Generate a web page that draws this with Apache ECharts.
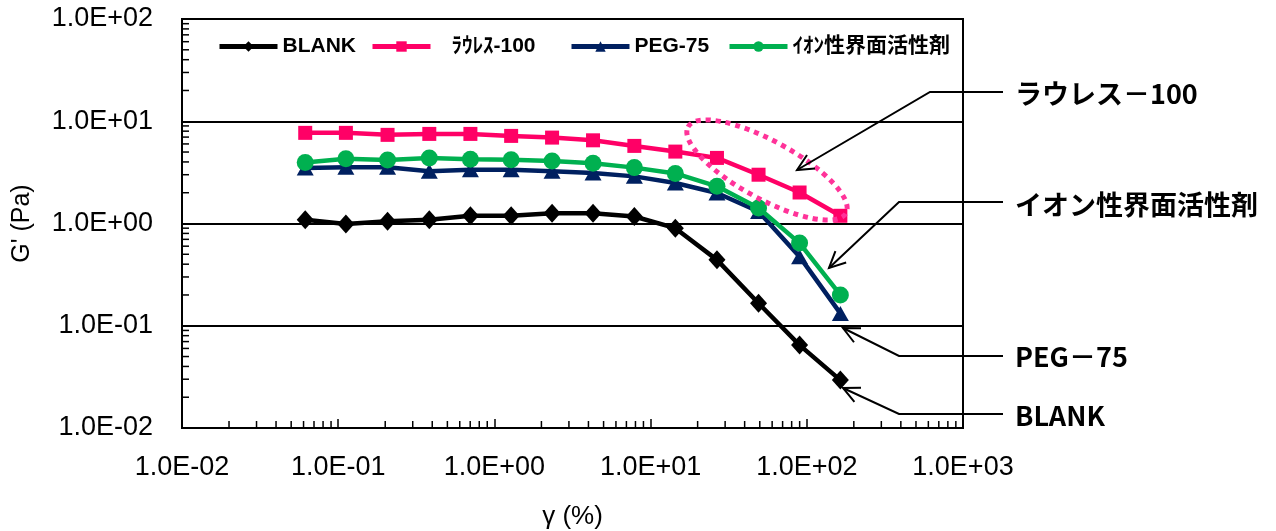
<!DOCTYPE html>
<html>
<head>
<meta charset="utf-8">
<script src="https://cdn.jsdelivr.net/npm/echarts@6/dist/echarts.min.js"></script>
<style>
html,body{margin:0;padding:0;background:#fff;}
#c{width:1276px;height:531px;}
</style>
</head>
<body>
<div id="c"></div>
<script>
// ---- data ----
const strain  = [0.0615, 0.112, 0.207, 0.383, 0.702, 1.28, 2.34, 4.28, 7.87, 14.4, 26.6, 49.1, 89.9, 164];
const blank   = [1.09, 0.99, 1.05, 1.09, 1.19, 1.19, 1.26, 1.26, 1.17, 0.90, 0.441, 0.166, 0.0647, 0.0294];
const laureth = [7.70, 7.70, 7.36, 7.52, 7.52, 7.19, 6.92, 6.51, 5.74, 5.05, 4.38, 3.00, 2.01, 1.19];
const peg     = [3.49, 3.54, 3.54, 3.24, 3.36, 3.36, 3.24, 3.12, 2.89, 2.49, 1.99, 1.31, 0.474, 0.132];
const ionic   = [3.96, 4.30, 4.18, 4.38, 4.25, 4.21, 4.09, 3.88, 3.52, 3.09, 2.31, 1.42, 0.643, 0.200];
const seriesNames = ['BLANK', 'ﾗｳﾚｽ-100', 'PEG-75', 'ｲｵﾝ性界面活性剤'];
const seriesColors = ['#000000', '#FF0066', '#002060', '#00B050'];
const annoNames = ['ラウレス－100', 'イオン性界面活性剤', 'PEG－75', 'BLANK'];
const xRange = [0.01, 1000];
const yRange = [0.01, 100];

function minorTicks(lo, hi) {
  const out = [];
  for (let d = Math.round(Math.log10(lo)); d < Math.round(Math.log10(hi)); d++) {
    for (let k = 2; k <= 9; k++) out.push(k * Math.pow(10, d));
  }
  return out;
}
const xMinor = minorTicks(xRange[0], xRange[1]);
const yMinor = minorTicks(yRange[0], yRange[1]);

function sci(v) {
  const e = Math.round(Math.log10(v));
  const s = e < 0 ? '-' : '+';
  const a = Math.abs(e);
  return '1.0E' + s + (a < 10 ? '0' + a : a);
}
function pairs(arr) { return strain.map((x, i) => [x, arr[i]]); }

const chart = echarts.init(document.getElementById('c'), null, {renderer: 'canvas'});

function arrow(x0, y0, x1, y1) {
  const t = Math.atan2(y1 - y0, x1 - x0), L = 18, f = 0.45;
  return [
    [x1 - L * Math.cos(t - f), y1 - L * Math.sin(t - f)],
    [x1, y1],
    [x1 - L * Math.cos(t + f), y1 - L * Math.sin(t + f)]
  ];
}
const leaders = [
  {pts: [[1003, 92], [930, 92], [797, 170]], text: annoNames[0], ty: 94},
  {pts: [[1003, 202], [899, 202], [829, 268]], text: annoNames[1], ty: 205},
  {pts: [[1003, 356], [899, 356], [843, 328]], text: annoNames[2], ty: 357},
  {pts: [[1003, 414], [899, 414], [843, 388]], text: annoNames[3], ty: 416}
];
const graphics = [];
leaders.forEach(l => {
  graphics.push({type: 'polyline', silent: true, z: 100, shape: {points: l.pts},
    style: {stroke: '#000', lineWidth: 2, fill: null}});
  const a = l.pts[1], b = l.pts[2];
  graphics.push({type: 'polyline', silent: true, z: 100, shape: {points: arrow(a[0], a[1], b[0], b[1])},
    style: {stroke: '#000', lineWidth: 2, fill: null}});
  graphics.push({type: 'text', silent: true, z: 100, x: 1015, y: l.ty,
    style: {text: l.text, fill: '#000', fontSize: 27, fontWeight: 'bold',
      fontFamily: '"Noto Sans CJK JP", sans-serif', verticalAlign: 'middle', align: 'left'}});
});
graphics.push({type: 'ellipse', silent: true, z: 90, x: 767, y: 170, rotation: -0.5,
  shape: {cx: 0, cy: 0, rx: 90, ry: 29},
  style: {stroke: '#FF3399', lineWidth: 5, lineDash: [5, 5], fill: null}});

const legendLefts = [212, 365, 564, 722];
const legendTextPad = [0, 16, 0, 0];
const legends = seriesNames.map((n, i) => ({
  data: [n], left: legendLefts[i], top: 31, itemWidth: 58, itemHeight: 13, itemGap: 0,
  lineStyle: {width: 5},
  textStyle: {fontFamily: '"Liberation Sans", "Noto Sans CJK JP", sans-serif', fontWeight: 'bold', fontSize: 21, color: '#000',
    padding: [0, 0, 0, legendTextPad[i]]}
}));

const symbols = ['diamond', 'rect', 'triangle', 'circle'];
const sizes = [[17, 19], 14, [17, 15], 17];
const datasets = [blank, laureth, peg, ionic];

const lineSeries = seriesNames.map((n, i) => ({
  type: 'line', name: n, data: pairs(datasets[i]), symbol: symbols[i], symbolSize: sizes[i], z: 3 + i,
  itemStyle: {color: seriesColors[i]}, lineStyle: {width: 4.5, color: seriesColors[i]}
}));

chart.setOption({
  animation: false,
  backgroundColor: '#fff',
  grid: {left: 182, right: 313, top: 19, bottom: 103, show: true, borderColor: '#000', borderWidth: 2,
    containLabel: false, outerBoundsMode: 'none'},
  legend: legends,
  xAxis: {
    type: 'log', logBase: 10, min: xRange[0], max: xRange[1],
    name: 'γ (%)', nameLocation: 'middle', nameGap: 76,
    nameTextStyle: {fontFamily: '"Liberation Sans", sans-serif', fontSize: 26, color: '#000'},
    axisLine: {lineStyle: {color: '#000', width: 2}},
    axisTick: {inside: true, length: 9, lineStyle: {color: '#000', width: 1.5}},
    axisLabel: {formatter: sci, margin: 26, color: '#000', fontSize: 27, fontFamily: '"Liberation Sans", sans-serif'},
    splitLine: {show: false}
  },
  yAxis: {
    type: 'log', logBase: 10, min: yRange[0], max: yRange[1],
    name: "G' (Pa)", nameLocation: 'middle', nameGap: 147,
    nameTextStyle: {fontFamily: '"Liberation Sans", sans-serif', fontSize: 25, color: '#000'},
    axisLine: {lineStyle: {color: '#000', width: 2}},
    axisTick: {inside: true, length: 9, lineStyle: {color: '#000', width: 1.5}},
    axisLabel: {formatter: sci, margin: 29, color: '#000', fontSize: 27, fontFamily: '"Liberation Sans", sans-serif'},
    splitLine: {show: true, lineStyle: {color: '#000', width: 2}}
  },
  series: lineSeries.concat([
    {type: 'custom', name: 'xminor', silent: true, clip: false, z: 2,
      data: xMinor.map(v => [v, yRange[0]]),
      renderItem: function (params, api) {
        const p = api.coord([api.value(0), yRange[0]]);
        return {type: 'line', shape: {x1: p[0], y1: p[1], x2: p[0], y2: p[1] - 7}, style: {stroke: '#000', lineWidth: 1.5}};
      }},
    {type: 'custom', name: 'yminor', silent: true, clip: false, z: 2,
      data: yMinor.map(v => [xRange[0], v]),
      renderItem: function (params, api) {
        const p = api.coord([xRange[0], api.value(1)]);
        return {type: 'line', shape: {x1: p[0], y1: p[1], x2: p[0] + 7, y2: p[1]}, style: {stroke: '#000', lineWidth: 1.5}};
      }}
  ]),
  graphic: graphics
});
</script>
</body>
</html>
